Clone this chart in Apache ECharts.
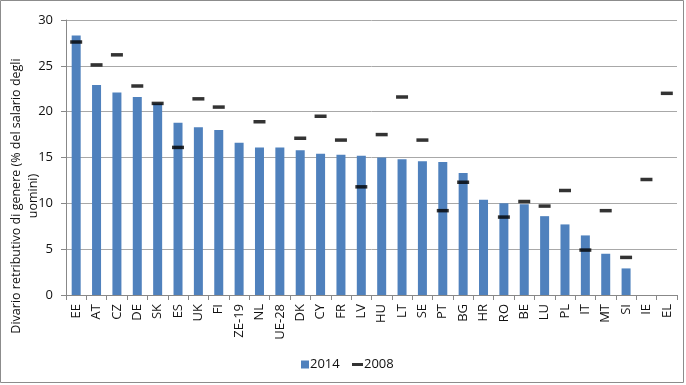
<!DOCTYPE html>
<html>
<head>
<meta charset="utf-8">
<script src="https://cdn.jsdelivr.net/npm/echarts@6/dist/echarts.min.js"></script>
<style>
html,body{margin:0;padding:0;background:#fff;}
#chart{width:686px;height:385px;}
</style>
</head>
<body>
<div id="chart"></div>
<script>
const categories = ['EE','AT','CZ','DE','SK','ES','UK','FI','ZE-19','NL','UE-28','DK','CY','FR','LV','HU','LT','SE','PT','BG','HR','RO','BE','LU','PL','IT','MT','SI','IE','EL'];
const values2014 = [28.3,22.9,22.1,21.6,20.9,18.8,18.3,18.0,16.6,16.1,16.1,15.8,15.4,15.3,15.2,15.0,14.8,14.6,14.5,13.3,10.4,10.0,9.9,8.6,7.7,6.5,4.5,2.9,null,null];
const values2008 = [27.6,25.1,26.2,22.8,20.9,16.1,21.4,20.5,null,18.9,null,17.1,19.5,16.9,11.8,17.5,21.6,16.9,9.2,12.3,null,8.5,10.2,9.7,11.4,4.9,9.2,4.1,12.6,22.0];
const yTicks = [0,5,10,15,20,25,30];
const yTitle = 'Divario retributivo di genere (% del salario degli\nuomini)';

const FONT = 'Open Sans';
const chart = echarts.init(document.getElementById('chart'));
chart.setOption({
  animation: false,
  textStyle: {fontFamily: FONT},
  grid: {left: 66, right: 9, top: 20, bottom: 90},
  xAxis: {
    type: 'category',
    data: categories,
    axisLine: {lineStyle: {color: '#888', width: 1}},
    axisTick: {show: true, alignWithLabel: false, length: 5, lineStyle: {color: '#888'}},
    axisLabel: {rotate: 90, margin: 9, color: '#111', fontSize: 13, fontFamily: FONT, interval: 0}
  },
  yAxis: {
    type: 'value',
    min: yTicks[0], max: yTicks[yTicks.length - 1], interval: 5,
    axisLine: {show: true, lineStyle: {color: '#888', width: 1}},
    axisTick: {show: true, length: 5, lineStyle: {color: '#888'}},
    axisLabel: {margin: 13, color: '#111', fontSize: 13, fontFamily: FONT},
    splitLine: {lineStyle: {color: '#a8a8a8', width: 1}}
  },
  legend: [
    {data: [{name: '2014', icon: 'rect'}], left: 296, top: 353, itemWidth: 8, itemHeight: 8, itemGap: 0,
     textStyle: {fontSize: 13, color: '#111', fontFamily: FONT, padding: [0,0,0,-4]}},
    {data: [{name: '2008', icon: 'rect'}], left: 347, top: 353, itemWidth: 11, itemHeight: 3, itemGap: 0,
     textStyle: {fontSize: 13, color: '#111', fontFamily: FONT, padding: [0,0,0,-4]}}
  ],
  series: [
    {name: '2014', type: 'bar', data: values2014, barWidth: 9,
     itemStyle: {color: '#4F81BD'}},
    {name: '2008', type: 'scatter', data: values2008, symbol: 'rect', symbolSize: [12, 3.5],
     itemStyle: {color: '#000'}, z: 5}
  ],
  graphic: [
    {type: 'rect', shape: {x: 0.5, y: 0.5, width: 683, height: 382}, style: {fill: null, stroke: '#8c8c8c', lineWidth: 1}, silent: true},
    {type: 'text', x: 25, y: 196, rotation: Math.PI / 2,
     style: {text: yTitle, font: '12.5px "Open Sans"', fill: '#111', align: 'center', verticalAlign: 'middle', lineHeight: 17}}
  ]
});
</script>
</body>
</html>
